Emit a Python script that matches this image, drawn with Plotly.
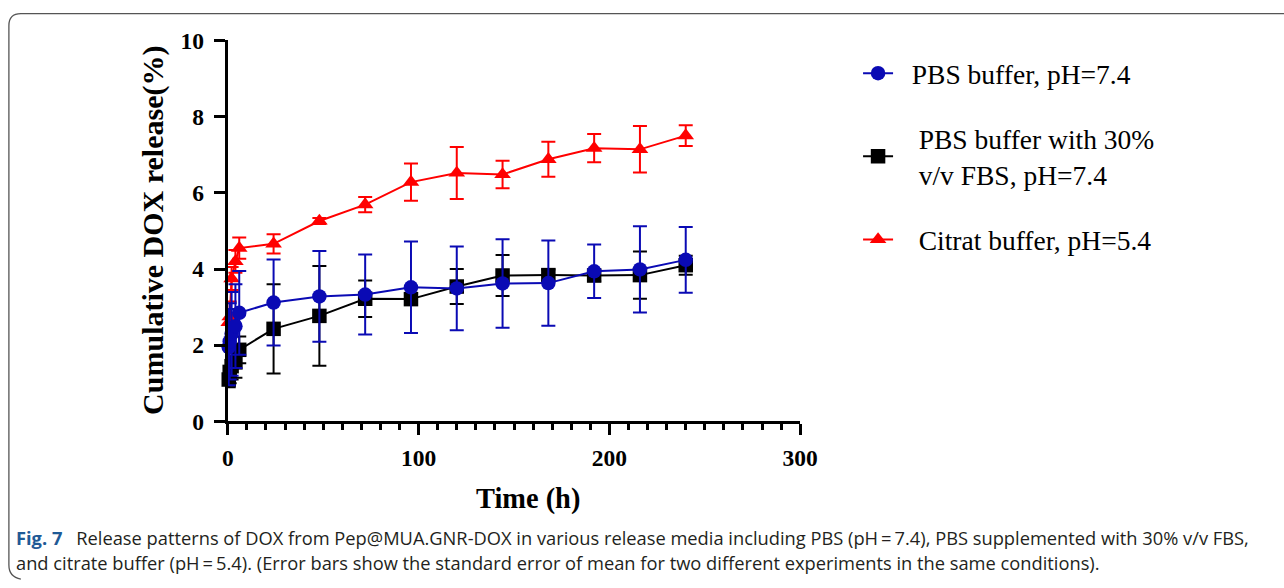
import plotly.graph_objects as go

W, H = 1284, 588

# ---- data ----
time_h = [0.5, 1, 2, 4, 6, 24, 48, 72, 96, 120, 144, 168, 192, 216, 240]
pbs = [1.95, 2.1, 2.3, 2.5, 2.85, 3.12, 3.28, 3.33, 3.52, 3.49, 3.62, 3.63, 3.94, 3.99, 4.24]
pbs_err = [1.0, 1.0, 1.1, 1.1, 1.1, 1.13, 1.19, 1.05, 1.2, 1.1, 1.16, 1.12, 0.7, 1.13, 0.86]
fbs = [1.1, 1.3, 1.45, 1.55, 1.88, 2.43, 2.77, 3.22, 3.21, 3.54, 3.83, 3.84, 3.83, 3.84, 4.1]
fbs_err = [0.2, 0.3, 0.35, 0.4, 0.35, 1.17, 1.31, 0.48, 0.15, 0.46, 0.54, 0.15, 0.15, 0.62, 0.25]
citrat = [2.6, 2.75, 3.75, 4.2, 4.55, 4.66, 5.26, 5.69, 6.28, 6.52, 6.48, 6.88, 7.17, 7.14, 7.5]
citrat_err = [0.35, 0.4, 0.3, 0.3, 0.28, 0.25, 0.08, 0.2, 0.49, 0.68, 0.36, 0.46, 0.37, 0.61, 0.27]

names = ["\u00a0\u00a0PBS buffer, pH=7.4",
         "\u00a0\u00a0\u00a0PBS buffer with 30%<br>\u00a0\u00a0\u00a0v/v FBS, pH=7.4",
         "\u00a0\u00a0\u00a0Citrat buffer, pH=5.4"]
x_ticks = [0, 100, 200, 300]
y_ticks = [0, 2, 4, 6, 8, 10]

BLUE = "#0a0ab4"
RED = "#ff0000"
BLACK = "#000000"
SERIF = "Liberation Serif"

# observed page->picture mapping of the capture: out = A + B * page
AX, BX = 4.6, 0.984
AY, BY = 11.6, 0.958


def px_x(t):
    """target picture x (px) -> paper fraction"""
    return ((t - AX) / BX) / W


def px_y(t):
    """target picture y (px, from top) -> paper fraction"""
    return 1 - ((t - AY) / BY) / H


def trace(y, err, color, symbol, name, rank):
    return go.Scatter(
        x=time_h, y=y, name=name, mode="lines+markers",
        line=dict(color=color, width=2),
        marker=dict(color=color, symbol=symbol, size=14.5),
        error_y=dict(type="data", array=err, color=color, thickness=2, width=7, visible=True),
        cliponaxis=False, legendrank=rank, legendgroup=str(rank),
    )


fig = go.Figure()
fig.add_trace(trace(citrat, citrat_err, RED, "triangle-up", names[2], 3))
fig.add_trace(trace(fbs, fbs_err, BLACK, "square", names[1], 2))
fig.add_trace(trace(pbs, pbs_err, BLUE, "circle", names[0], 1))

axis_font = dict(family=SERIF, size=23.5, color="black", weight="bold")

fig.update_xaxes(
    domain=[px_x(227), px_x(801)], range=[0, 300], tickvals=x_ticks,
    showline=True, linewidth=3, linecolor="black", ticks="outside",
    ticklen=11, tickwidth=3, tickcolor="black", tickfont=axis_font,
    ticklabelstandoff=2, showgrid=False, zeroline=False,
    minor=dict(dtick=10, tick0=0, ticks="outside", ticklen=6, tickwidth=2.5, tickcolor="black", showgrid=False),
)
fig.update_yaxes(
    domain=[px_y(421), px_y(39)], range=[0, 10], tickvals=y_ticks,
    showline=True, linewidth=3, linecolor="black", ticks="outside",
    ticklen=11, tickwidth=3, tickcolor="black", tickfont=axis_font,
    ticklabelstandoff=5, showgrid=False, zeroline=False,
)

annotations = [
    dict(text="<b>Cumulative DOX release(%)</b>", x=px_x(152), y=px_y(229), xref="paper", yref="paper",
         textangle=-90, showarrow=False, font=dict(family=SERIF, size=30, color="black"),
         xanchor="center", yanchor="middle"),
    dict(text="<b>Time (h)</b>", x=px_x(528), y=px_y(499), xref="paper", yref="paper",
         showarrow=False, font=dict(family=SERIF, size=28.4, color="black"),
         xanchor="center", yanchor="middle"),
    dict(text="<span style='color:#1f5a96'><b>Fig. 7</b></span>\u2002 Release patterns of DOX from Pep@MUA.GNR-DOX in various release media including PBS (pH\u2009=\u20097.4), PBS supplemented with 30% v/v FBS,",
         x=px_x(12.5), y=px_y(537), xref="paper", yref="paper", showarrow=False,
         font=dict(family="Open Sans", size=18.3, color="#231f20"), xanchor="left", yanchor="middle"),
    dict(text="and citrate buffer (pH\u2009=\u20095.4). (Error bars show the standard error of mean for two different experiments in the same conditions).",
         x=px_x(12.5), y=px_y(562), xref="paper", yref="paper", showarrow=False,
         font=dict(family="Open Sans", size=18.3, color="#231f20"), xanchor="left", yanchor="middle"),
]

r = 12
top = 12.3
bot = 577
border = (f"M {px_x(1300)},{px_y(top)} L {px_x(7.5 + r)},{px_y(top)} "
          f"Q {px_x(7.5)},{px_y(top)} {px_x(7.5)},{px_y(top + r)} "
          f"L {px_x(7.5)},{px_y(bot - r)} Q {px_x(7.5)},{px_y(bot)} {px_x(7.5 + r)},{px_y(bot + 2)}")

fig.update_layout(
    width=W, height=H, margin=dict(l=0, r=0, t=0, b=0),
    paper_bgcolor="white", plot_bgcolor="white",
    showlegend=True,
    legend=dict(x=px_x(859), y=px_y(47.5), xanchor="left", yanchor="top",
                font=dict(family=SERIF, size=27.5, color="black"),
                traceorder="grouped", tracegroupgap=26.5, bgcolor="rgba(0,0,0,0)",
                itemwidth=30),
    annotations=annotations,
    shapes=[dict(type="path", path=border, xref="paper", yref="paper",
                 line=dict(color="#555555", width=1.3))],
)

fig.write_html(
    "out.html",
    config={"displayModeBar": False},
    post_script="document.body.style.margin='0';document.body.style.overflow='hidden';",
)
